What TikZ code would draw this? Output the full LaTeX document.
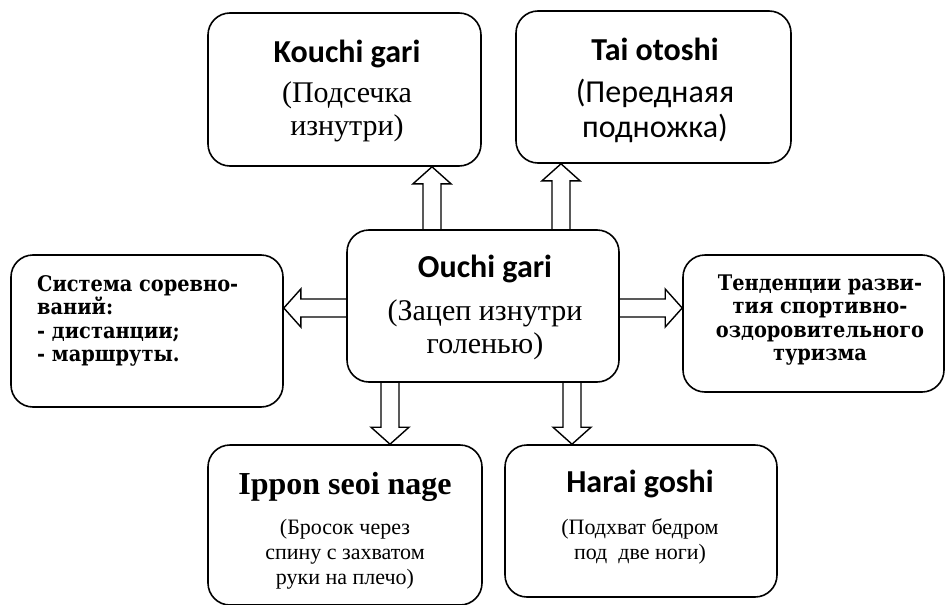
\documentclass[tikz,border=0pt]{standalone}
\usepackage{fontspec}
\setmainfont{Liberation Serif}
\newfontfamily\calib{Carlito}
\newfontfamily\dvserif[FakeStretch=0.9]{DejaVu Serif}
\usetikzlibrary{calc}
\tikzset{
  box/.style={draw, line width=1.6pt, rounded corners=22pt, inner sep=0pt},
  txt/.style={align=center, inner sep=0pt},
  subtxt/.style={font=\fontsize{30}{33}\selectfont},
  smalltxt/.style={font=\fontsize{22}{25}\selectfont},
  sidetxt/.style={font=\dvserif\bfseries\fontsize{21.5}{23.5}\selectfont},
  blockarrow/.style={draw, line width=1.4pt, line join=miter,
    to path={
      ($(\tikztostart)!9pt!90:(\tikztotarget)$)
      -- ($(\tikztotarget)!17pt!(\tikztostart)!9pt!-90:(\tikztostart)$)
      -- ($(\tikztotarget)!17pt!(\tikztostart)!19pt!-90:(\tikztostart)$)
      -- (\tikztotarget)
      -- ($(\tikztotarget)!17pt!(\tikztostart)!19pt!90:(\tikztostart)$)
      -- ($(\tikztotarget)!17pt!(\tikztostart)!9pt!90:(\tikztostart)$)
      -- ($(\tikztostart)!9pt!-90:(\tikztotarget)$)
    }}
}
\newcommand{\ttl}{\calib\bfseries\fontsize{32}{36}\selectfont}
\begin{document}
\begin{tikzpicture}[x=1pt,y=-1pt]
\useasboundingbox (0,0) rectangle (945,605);
% boxes
\node[box, minimum width=273pt, minimum height=153pt] (kouchi) at (344.5,89.5) {};
\node[box, minimum width=275pt, minimum height=152pt] (tai) at (653.5,87) {};
\node[box, minimum width=272pt, minimum height=152pt] (ouchi) at (483,306) {};
\node[box, minimum width=272pt, minimum height=152pt] (sys) at (147,331) {};
\node[box, minimum width=261pt, minimum height=137pt] (tend) at (813.5,323.5) {};
\node[box, minimum width=274pt, minimum height=160pt] (ippon) at (345,525) {};
\node[box, minimum width=272pt, minimum height=152pt] (harai) at (641,521) {};
% texts
\node[txt, subtxt] (kouchiT) at (347,91) {{\ttl Kouchi gari}\\[7pt] (Подсечка\\изнутри)};
\node[txt, subtxt, font=\calib\fontsize{32}{35}\selectfont] (taiT) at (655,90) {{\ttl Tai otoshi}\\[7pt] (Переднаяя\\подножка)};
\node[txt, subtxt] (ouchiT) at (485,307) {{\ttl Ouchi gari}\\[10pt] (Зацеп изнутри\\голенью)};
\node[txt, smalltxt] (ipponT) at (345,531) {{\bfseries\fontsize{32}{36}\selectfont Ippon seoi nage}\\[15pt] (Бросок через\\спину с захватом\\руки на плечо)};
\node[txt, smalltxt] (haraiT) at (640,517) {{\ttl Harai goshi}\\[17pt] (Подхват бедром\\под\ \ две ноги)};
\node[inner sep=0pt, align=left, sidetxt, anchor=west] (sysT) at (37,321) {Система соревно-\\ваний:\\- дистанции;\\- маршруты.};
\node[txt, sidetxt] (tendT) at (820,320) {Тенденции разви-\\тия спортивно-\\оздоровительного\\туризма};
% arrows
\coordinate (a1s) at ($(ouchi.north)+(-51,0)$);
\coordinate (a1e) at (kouchi.south -| a1s);
\coordinate (a2s) at ($(ouchi.north)+(78,0)$);
\coordinate (a2e) at (tai.south -| a2s);
\coordinate (a3s) at ($(ouchi.south)+(-93,0)$);
\coordinate (a3e) at (ippon.north -| a3s);
\coordinate (a4s) at ($(ouchi.south)+(89,0)$);
\coordinate (a4e) at (harai.north -| a4s);
\coordinate (a5s) at ($(ouchi.west)+(0,2)$);
\coordinate (a5e) at (sys.east |- a5s);
\coordinate (a6s) at ($(ouchi.east)+(0,2)$);
\coordinate (a6e) at (tend.west |- a6s);
\draw[blockarrow] (a1s) to (a1e);
\draw[blockarrow] (a2s) to (a2e);
\draw[blockarrow] (a3s) to (a3e);
\draw[blockarrow] (a4s) to (a4e);
\draw[blockarrow] (a5s) to (a5e);
\draw[blockarrow] (a6s) to (a6e);
\end{tikzpicture}
\end{document}
